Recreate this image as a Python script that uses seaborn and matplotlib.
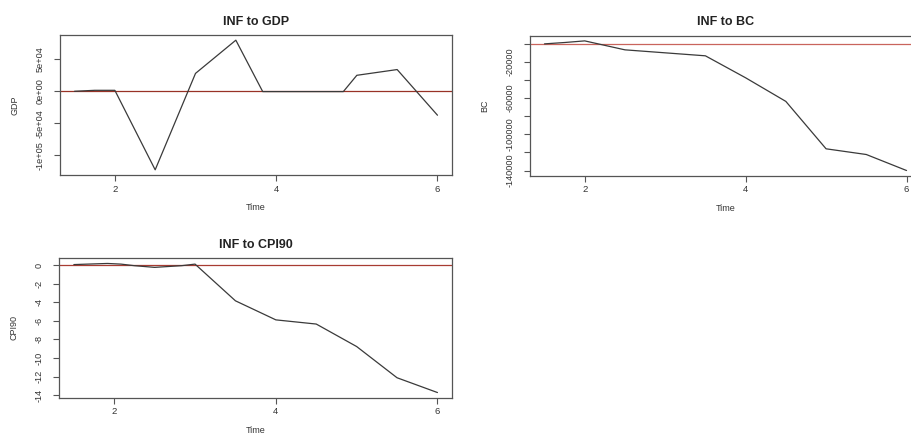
import numpy as np
import pandas as pd
import matplotlib
matplotlib.use("Agg")
import matplotlib.pyplot as plt
import seaborn as sns

# Impulse responses of each variable to an INF shock
gdp_time = [1.5, 1.75, 2.0, 2.5, 3.0, 3.5, 3.833, 4.833, 5.0, 5.5, 6.0]
gdp_resp = [0, 1500, 1500, -123000, 28000, 80000, -500, -500, 25000, 34000, -37500]

bc_time = [1.5, 1.75, 2.0, 2.167, 2.5, 3.5, 4.0, 4.5, 5.0, 5.5, 6.0]
bc_resp = [0, 1500, 3300, 0, -6600, -13200, -37500, -63600, -116000, -122300, -140000]

cpi_time = [1.5, 1.667, 1.917, 2.083, 2.25, 2.5, 2.833, 3.0, 3.5, 4.0, 4.5, 5.0, 5.5, 6.0]
cpi_resp = [0.05, 0.1, 0.17, 0.1, -0.07, -0.25, -0.07, 0.1, -3.85, -5.9, -6.35, -8.77, -12.13, -13.72]

titles = ["INF to GDP", "INF to BC", "INF to CPI90"]
ylabels = ["GDP", "BC", "CPI90"]
x_ticks = [2, 4, 6]
gdp_yticks = [-1e5, -5e4, 0, 5e4]
gdp_yticklabels = ["-1e+05", "-5e+04", "0e+00", "5e+04"]
bc_yticks = [-140000, -120000, -100000, -80000, -60000, -40000, -20000, 0]
bc_yticklabels = ["-140000", "", "-100000", "", "-60000", "", "-20000", ""]
cpi_yticks = [-14, -12, -10, -8, -6, -4, -2, 0]
cpi_yticklabels = ["-14", "-12", "-10", "-8", "-6", "-4", "-2", "0"]

sns.set_style("white")
plt.rcParams["font.family"] = ["Liberation Sans", "DejaVu Sans"]

fig = plt.figure(figsize=(9.12, 4.34), dpi=100)
fig.patch.set_facecolor("white")

W, H = 912, 434
boxes = [
    (60, 35, 452, 175),
    (530, 35.7, 921, 175.7),
    (59.3, 258.3, 452, 397.7),
]
series = [
    (gdp_time, gdp_resp, gdp_yticks, gdp_yticklabels),
    (bc_time, bc_resp, bc_yticks, bc_yticklabels),
    (cpi_time, cpi_resp, cpi_yticks, cpi_yticklabels),
]
zero_cols = ["#983226", "#c9645c", "#a83c32"]

line_col = "#3a3a3a"
frame_col = "#555555"

for (l, t, r, b), (tx, ty, yt, ytl), title, ylab, zc in zip(boxes, series, titles, ylabels, zero_cols):
    ax = fig.add_axes([l / W, 1 - b / H, (r - l) / W, (b - t) / H])
    df = pd.DataFrame({"Time": tx, ylab: ty})
    sns.lineplot(data=df, x="Time", y=ylab, ax=ax, color=line_col, linewidth=0.9)
    ax.axhline(0, color=zc, linewidth=0.9, zorder=1)

    # R-style 4% padding on both axes
    xmin, xmax = min(tx), max(tx)
    dx = (xmax - xmin) * 0.04
    ymin, ymax = min(ty), max(ty)
    dy = (ymax - ymin) * 0.04
    ax.set_xlim(xmin - dx, xmax + dx)
    ax.set_ylim(ymin - dy, ymax + dy)

    ax.set_xticks(x_ticks)
    ax.set_xticklabels([str(v) for v in x_ticks], fontsize=6.8, color="#333333")
    ax.set_yticks(yt)
    ax.set_yticklabels(ytl, fontsize=6.6, color="#333333", rotation=90, va="center")
    ax.tick_params(axis="x", direction="out", length=4, width=0.8,
                   color=frame_col, pad=3, bottom=True)
    ax.tick_params(axis="y", direction="out", length=4, width=0.8,
                   color=frame_col, pad=7, left=True)

    for s in ax.spines.values():
        s.set_visible(True)
        s.set_color(frame_col)
        s.set_linewidth(0.9)

    ax.set_title(title, fontsize=9, fontweight="bold", color="#222222", pad=7.5)
    ax.set_xlabel("Time", fontsize=6.5, color="#333333", labelpad=7)
    ax.set_ylabel(ylab, fontsize=6.5, color="#333333", labelpad=12)

fig.savefig("out.png", dpi=100, facecolor="white")
